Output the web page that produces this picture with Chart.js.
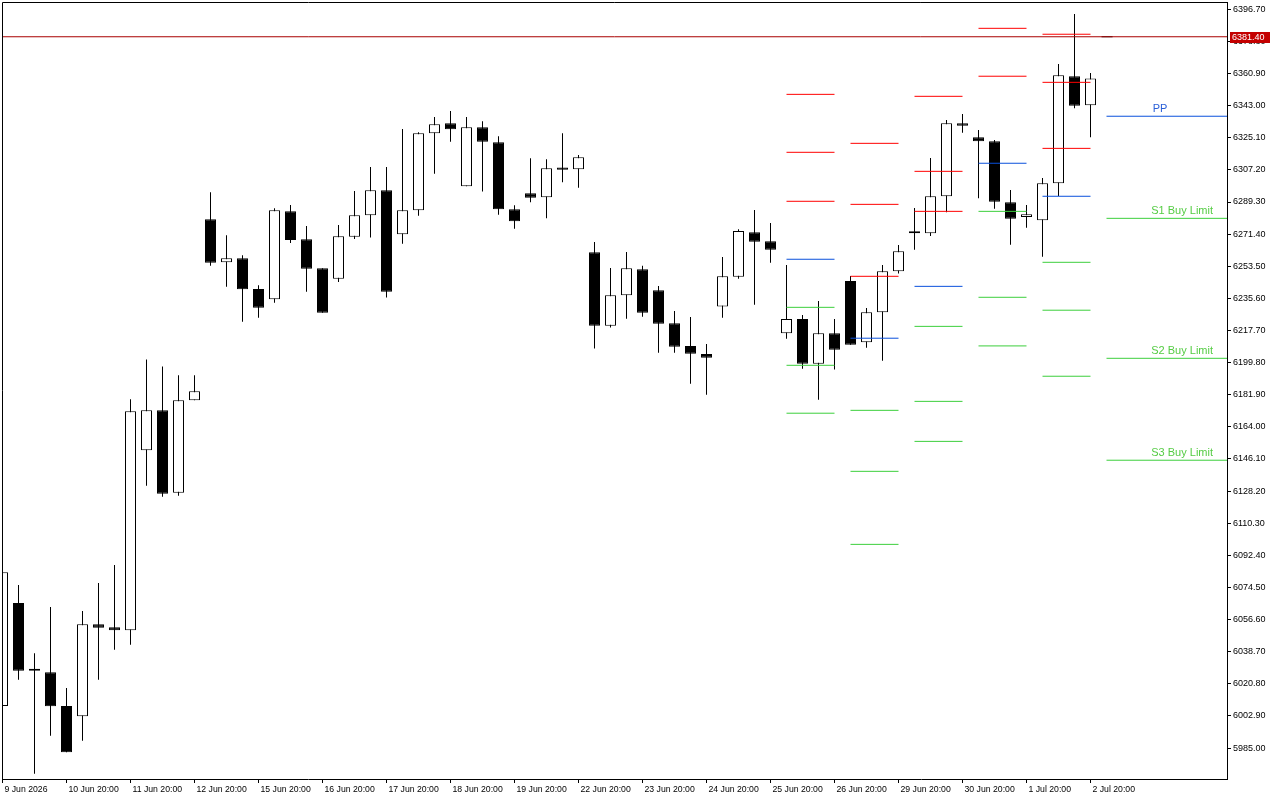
<!DOCTYPE html>
<html>
<head>
<meta charset="utf-8">
<title>Candles with pivot levels</title>
<script src="https://cdn.jsdelivr.net/npm/chart.js@4.4.1/dist/chart.umd.min.js"></script>
<style>
  html, body { margin: 0; padding: 0; background: #ffffff; }
  #wrap { width: 1280px; height: 800px; position: relative; }
</style>
</head>
<body>
<div id="wrap"><canvas id="priceChart"></canvas></div>
<script>
// one candle per bar, oldest first (bar index = x value)
const opens = [6008.4, 6065.8, 6028.5, 6027.2, 6008.4, 6002.7, 6054.0, 6052.3, 6050.6, 6150.9,
  6173.2, 6127.3, 6178.8, 6279.7, 6255.7, 6257.9, 6240.8, 6235.1, 6284.1, 6268.5,
  6252.4, 6246.6, 6270.0, 6281.9, 6295.9, 6271.3, 6284.7, 6327.6, 6333.2, 6298.1,
  6330.9, 6322.6, 6285.2, 6294.2, 6291.9, 6308.6, 6307.5, 6261.3, 6220.4, 6237.3,
  6251.8, 6240.1, 6221.7, 6209.1, 6204.6, 6231.0, 6247.7, 6272.4, 6267.5, 6216.1,
  6224.1, 6199.2, 6216.1, 6245.3, 6211.1, 6227.8, 6250.7, 6271.9, 6271.9, 6292.5,
  6333.2, 6325.4, 6323.1, 6289.1, 6281.0, 6279.1, 6299.7, 6359.4, 6343.2];
const highs = [6083.0, 6075.9, 6037.8, 6063.6, 6018.5, 6061.4, 6077.0, 6087.0, 6179.4, 6201.6,
  6197.7, 6192.7, 6192.7, 6294.7, 6270.8, 6259.6, 6242.9, 6285.8, 6287.6, 6275.9,
  6252.4, 6276.5, 6295.4, 6308.8, 6308.8, 6330.0, 6328.2, 6336.7, 6340.0, 6336.7,
  6334.3, 6325.9, 6287.5, 6313.7, 6313.1, 6327.6, 6315.5, 6267.0, 6252.5, 6261.4,
  6253.8, 6242.5, 6228.6, 6225.2, 6210.2, 6258.7, 6274.1, 6284.9, 6277.6, 6254.2,
  6226.3, 6234.1, 6224.1, 6248.1, 6230.2, 6254.2, 6265.3, 6286.0, 6313.8, 6335.0,
  6338.4, 6329.4, 6323.9, 6296.0, 6287.6, 6302.7, 6366.2, 6394.1, 6361.2];
const lows = [6008.4, 6023.1, 5970.7, 5991.9, 5982.6, 5989.1, 6023.1, 6039.8, 6042.6, 6131.2,
  6125.1, 6125.6, 6178.8, 6253.8, 6242.1, 6222.6, 6224.8, 6233.2, 6266.5, 6239.3,
  6227.6, 6244.7, 6268.7, 6269.5, 6236.1, 6266.1, 6281.7, 6305.1, 6322.9, 6298.1,
  6295.1, 6282.2, 6274.4, 6289.1, 6280.2, 6300.3, 6297.3, 6207.6, 6219.3, 6224.3,
  6225.4, 6205.3, 6205.3, 6188.0, 6181.9, 6224.8, 6246.6, 6232.1, 6255.5, 6213.1,
  6196.4, 6179.1, 6195.9, 6209.8, 6208.1, 6200.9, 6249.4, 6262.7, 6270.4, 6283.6,
  6327.9, 6291.4, 6285.6, 6265.5, 6275.0, 6258.8, 6292.7, 6341.5, 6325.4];
const closes = [6082.9, 6028.1, 6028.0, 6008.3, 5982.6, 6054.0, 6052.1, 6050.6, 6172.7, 6173.2,
  6126.7, 6178.8, 6183.8, 6255.5, 6257.9, 6240.7, 6230.4, 6284.7, 6268.1, 6252.1,
  6227.6, 6270.2, 6281.9, 6295.9, 6239.3, 6284.7, 6327.6, 6332.6, 6329.8, 6330.9,
  6322.9, 6285.2, 6278.6, 6291.7, 6308.1, 6307.3, 6314.2, 6220.4, 6237.3, 6252.4,
  6227.6, 6221.5, 6208.7, 6204.8, 6202.5, 6247.9, 6273.1, 6267.2, 6262.7, 6224.1,
  6199.2, 6216.1, 6207.0, 6209.8, 6227.8, 6250.7, 6261.8, 6272.0, 6292.5, 6333.2,
  6331.8, 6323.1, 6289.5, 6280.0, 6282.5, 6299.7, 6359.9, 6343.0, 6358.2];

// x axis labels, one every 4 bars
const xTickIdx = [0, 4, 8, 12, 16, 20, 24, 28, 32, 36, 40, 44, 48, 52, 56, 60, 64, 68];
const xTickText = ['9 Jun 2026', '10 Jun 20:00', '11 Jun 20:00', '12 Jun 20:00', '15 Jun 20:00',
  '16 Jun 20:00', '17 Jun 20:00', '18 Jun 20:00', '19 Jun 20:00', '22 Jun 20:00', '23 Jun 20:00',
  '24 Jun 20:00', '25 Jun 20:00', '26 Jun 20:00', '29 Jun 20:00', '30 Jun 20:00', '1 Jul 20:00',
  '2 Jul 20:00'];

// price axis labels
const yTickVals = [6396.7, 6378.8, 6360.9, 6343.0, 6325.1, 6307.2, 6289.3, 6271.4, 6253.5, 6235.6,
  6217.7, 6199.8, 6181.9, 6164.0, 6146.1, 6128.2, 6110.3, 6092.4, 6074.5, 6056.6, 6038.7,
  6020.8, 6002.9, 5985.0];

const xMin = -0.03125, xMax = 76.53125;
const yMin = 5967.74, yMax = 6400.77;

// daily pivot levels, each drawn from segStart to segEnd (bar index)
const segStart = [49, 53, 57, 61, 65, 69];
const segEnd = [52, 56, 60, 64, 68, xMax];
const r3 = [6349.3, 6322.0, 6348.2, 6386.1, 6382.8, null];
const r2 = [6317.0, 6288.0, 6306.4, 6359.4, 6356.0, null];
const r1 = [6289.7, 6247.9, 6284.1, null, 6319.2, null];
const pp = [6257.4, 6213.4, 6242.3, 6310.9, 6292.5, 6337.1];
const s1 = [6230.6, 6173.2, 6220.0, 6284.1, 6255.7, 6280.2];
const s2 = [6198.3, 6139.2, 6178.2, 6236.2, 6229.0, 6202.2];
const s3 = [6171.6, 6098.5, 6155.9, 6209.1, 6192.2, 6145.4];

const lastPrice = 6381.4;
const levelNames = ['PP', 'S1 Buy Limit', 'S2 Buy Limit', 'S3 Buy Limit'];

const RED = '#ff0000', BLUE = '#0a50dc', GREEN = '#3ccf3c';

function levelLine(levels) {
  let pts = [];
  levels.forEach(function (v, k) {
    if (v === null) return;
    pts.push({x: segStart[k], y: v}, {x: segEnd[k], y: v}, {x: segEnd[k], y: null});
  });
  return pts;
}

function lineSet(data, color) {
  return {
    type: 'line', data: data, borderColor: color, borderWidth: 1,
    pointRadius: 0, tension: 0, spanGaps: false, fill: false, order: 0
  };
}

const bodyData = opens.map((o, i) => ({x: i, y: [o, closes[i]]}));
const wickData = opens.map((o, i) => ({x: i, y: [lows[i], highs[i]]}));
const bodyFill = opens.map((o, i) => closes[i] >= o ? '#ffffff' : '#000000');

const chartDeco = {
  id: 'chartDeco',
  afterDatasetsDraw(chart) {
    const ctx = chart.ctx, ys = chart.scales.y, area = chart.chartArea;
    const last = pp.length - 1;
    ctx.save();
    ctx.font = '11px "Liberation Sans", Arial, sans-serif';
    ctx.textBaseline = 'alphabetic';
    ctx.fillStyle = '#2a5fd8';
    ctx.textAlign = 'center';
    ctx.fillText(levelNames[0], 1160, ys.getPixelForValue(pp[last]) - 4);
    ctx.fillStyle = '#55cc44';
    ctx.textAlign = 'right';
    [s1, s2, s3].forEach(function (arr, k) {
      ctx.fillText(levelNames[k + 1], area.right - 14, ys.getPixelForValue(arr[last]) - 4);
    });
    ctx.restore();
  },
  afterDraw(chart) {
    const ctx = chart.ctx, ys = chart.scales.y, area = chart.chartArea;
    ctx.save();
    // frame on top and left
    ctx.strokeStyle = '#000';
    ctx.lineWidth = 1;
    ctx.beginPath();
    ctx.moveTo(area.left + 0.5, area.bottom);
    ctx.lineTo(area.left + 0.5, area.top + 0.5);
    ctx.lineTo(area.right, area.top + 0.5);
    ctx.stroke();
    // last price tag
    const py = Math.round(ys.getPixelForValue(lastPrice));
    ctx.fillStyle = '#c40000';
    ctx.fillRect(area.right + 3, py - 5, 40, 11);
    ctx.fillStyle = '#ffffff';
    ctx.font = '9px "Liberation Sans", Arial, sans-serif';
    ctx.textAlign = 'left';
    ctx.textBaseline = 'middle';
    ctx.fillText(lastPrice.toFixed(2), area.right + 5, py + 1);
    ctx.restore();
  }
};

const ctx = document.getElementById('priceChart');
new Chart(ctx, {
  type: 'bar',
  data: {
    datasets: [
      lineSet(levelLine(r3), RED),
      lineSet(levelLine(r2), RED),
      lineSet(levelLine(r1), RED),
      lineSet(levelLine(pp), BLUE),
      lineSet(levelLine(s1), GREEN),
      lineSet(levelLine(s2), GREEN),
      lineSet(levelLine(s3), GREEN),
      lineSet([{x: xMin, y: lastPrice}, {x: xMax, y: lastPrice}], '#a80000'),
      lineSet([{x: 68.69, y: lastPrice}, {x: 69.38, y: lastPrice}], '#000000'),
      {
        label: 'body', data: bodyData, backgroundColor: bodyFill, borderColor: '#000000',
        borderWidth: 1, borderSkipped: false, barThickness: 11, grouped: false,
        minBarLength: 2, inflateAmount: 0, order: 1
      },
      {
        label: 'wick', data: wickData, backgroundColor: '#000000', borderWidth: 0,
        barThickness: 1, grouped: false, inflateAmount: 0, order: 2
      }
    ]
  },
  options: {
    responsive: true,
    maintainAspectRatio: false,
    animation: false,
    events: [],
    layout: { padding: { left: 2, top: 2, right: 0, bottom: 0 } },
    plugins: { legend: { display: false }, tooltip: { enabled: false } },
    scales: {
      x: {
        type: 'linear', min: xMin, max: xMax, offset: false,
        grid: { display: true, drawOnChartArea: false, drawTicks: true, tickLength: 4, color: '#000', offset: false },
        border: { display: true, color: '#000', width: 1 },
        afterBuildTicks: function (scale) { scale.ticks = xTickIdx.map(v => ({value: v})); },
        afterFit: function (scale) { scale.height = 21; scale.paddingLeft = 0; scale.paddingRight = 0; },
        ticks: {
          autoSkip: false, maxRotation: 0, minRotation: 0, align: 'start', labelOffset: 2, padding: 1,
          color: '#000', font: { family: '"Liberation Sans", Arial, sans-serif', size: 8.7 },
          callback: function (v, idx) { return xTickText[idx]; }
        }
      },
      y: {
        type: 'linear', position: 'right', min: yMin, max: yMax,
        grid: { display: true, drawOnChartArea: false, drawTicks: true, tickLength: 4, color: '#000' },
        border: { display: true, color: '#000', width: 1 },
        afterBuildTicks: function (scale) { scale.ticks = yTickVals.map(v => ({value: v})); },
        afterFit: function (scale) { scale.width = 53; scale.paddingTop = 0; scale.paddingBottom = 0; },
        ticks: {
          autoSkip: false, padding: 2, color: '#000',
          font: { family: '"Liberation Sans", Arial, sans-serif', size: 9 },
          callback: function (v) { return Number(v).toFixed(2); }
        }
      }
    }
  },
  plugins: [chartDeco]
});
</script>
</body>
</html>
